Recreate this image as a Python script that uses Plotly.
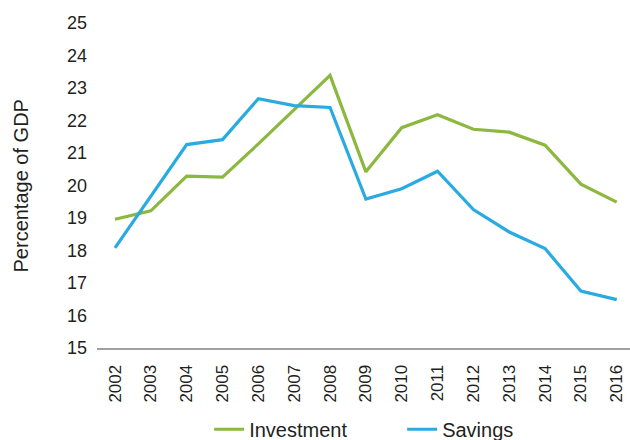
import plotly.graph_objects as go

years = ["2002", "2003", "2004", "2005", "2006", "2007", "2008", "2009",
         "2010", "2011", "2012", "2013", "2014", "2015", "2016"]
investment = [18.96, 19.22, 20.29, 20.26, 21.28, 22.33, 23.39, 20.42,
              21.78, 22.18, 21.73, 21.64, 21.24, 20.04, 19.49]
savings = [18.08, 19.68, 21.26, 21.41, 22.67, 22.46, 22.40, 19.58,
           19.90, 20.44, 19.26, 18.57, 18.06, 16.75, 16.49]
y_ticks = list(range(15, 26))

FONT = "Liberation Sans, Arial, sans-serif"
TXT = "#231f20"

fig = go.Figure()
fig.add_trace(go.Scatter(x=years, y=investment, mode="lines", name="Investment",
                         line=dict(color="#8cb83f", width=3.2)))
fig.add_trace(go.Scatter(x=years, y=savings, mode="lines", name="Savings",
                         line=dict(color="#29abe2", width=3.2)))

fig.update_layout(
    width=630, height=440,
    margin=dict(l=97, r=0, t=23, b=92, autoexpand=False),
    paper_bgcolor="white", plot_bgcolor="white",
    font=dict(family=FONT, color=TXT, size=17),
    showlegend=True,
    legend=dict(orientation="h", xref="container", yref="paper",
                x=0.332, y=-0.25, xanchor="left", yanchor="middle",
                entrywidth=148, entrywidthmode="pixels",
                font=dict(size=20, color=TXT), tracegroupgap=0,
                bgcolor="rgba(0,0,0,0)"),
    xaxis=dict(type="category", range=[-0.502, 14.37], showgrid=False,
               showline=True, linecolor="#a0a0a0", linewidth=2,
               ticks="", tickangle=-90, ticklabelstandoff=8,
               tickfont=dict(size=17, color=TXT), zeroline=False),
    yaxis=dict(range=[15, 25], tickvals=y_ticks, showgrid=False,
               showline=False, zeroline=False, ticks="",
               ticklabelstandoff=9, tickfont=dict(size=18, color=TXT)),
    annotations=[dict(text="Percentage of GDP", textangle=-90,
                      xref="paper", yref="paper", x=-0.1426, y=0.5,
                      xanchor="center", yanchor="middle", showarrow=False,
                      font=dict(size=20, color=TXT))],
)

fig.write_html("out.html", config={"displayModeBar": False},
               post_script="document.body.style.margin='0';")
